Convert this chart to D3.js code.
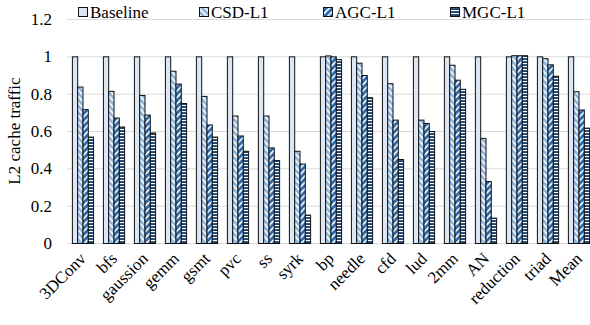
<!DOCTYPE html>
<html>
<head>
<meta charset="utf-8">
<script src="https://cdn.jsdelivr.net/npm/d3@7"></script>
<style>
	body { margin: 0; background: #fff; }
	svg { font-family: "Liberation Serif", "Times New Roman", Times, serif; }
</style>
</head>
<body>
<div id="chart"></div>
<script>
// categories and values
const categories = ["3DConv", "bfs", "gaussion", "gemm", "gsmt", "pvc", "ss", "syrk", "bp", "needle",
	"cfd", "lud", "2mm", "AN", "reduction", "triad", "Mean"];
const seriesNames = ["Baseline", "CSD-L1", "AGC-L1", "MGC-L1"];

const baseline = [1, 1, 1, 1, 1, 1, 1, 1, 1, 1, 1, 1, 1, 1, 1, 1, 1];
const csdL1 = [0.838, 0.815, 0.793, 0.923, 0.788, 0.683, 0.683, 0.494, 1.005, 0.966, 0.856, 0.661, 0.955, 0.563, 1.006, 0.99, 0.813];
const agcL1 = [0.717, 0.672, 0.688, 0.854, 0.635, 0.576, 0.512, 0.426, 1.0, 0.9, 0.661, 0.643, 0.875, 0.332, 1.006, 0.957, 0.715];
const mgcL1 = [0.57, 0.624, 0.592, 0.75, 0.57, 0.494, 0.444, 0.152, 0.985, 0.781, 0.45, 0.6, 0.826, 0.136, 1.006, 0.896, 0.618];

const yTicks = [0, 0.2, 0.4, 0.6, 0.8, 1, 1.2];

const allSeries = [baseline, csdL1, agcL1, mgcL1];

const width = 590, height = 325;
const margin = { top: 19, right: -4, bottom: 82, left: 67 };

const svg = d3.select("#chart")
	.append("svg")
	.attr("width", width)
	.attr("height", height);

// fill patterns
const defs = svg.append("defs");

function stripePattern(id, bg, size, angle, lineW) {
	const p = defs.append("pattern")
		.attr("id", id)
		.attr("patternUnits", "userSpaceOnUse")
		.attr("width", size)
		.attr("height", size)
		.attr("patternTransform", `rotate(${angle})`);
	p.append("rect").attr("width", size).attr("height", size).attr("fill", bg);
	p.append("rect").attr("x", 0).attr("y", 0).attr("width", size).attr("height", lineW).attr("fill", "#fff");
}
stripePattern("pat-csd", "#8fb8e0", 4.5, 45, 1.6);
stripePattern("pat-agc", "#2b6cb0", 4.5, -45, 1.6);
stripePattern("pat-mgc", "#1e446c", 3, 0, 1.1);

const fills = ["#dce7f3", "url(#pat-csd)", "url(#pat-agc)", "url(#pat-mgc)"];

const x = d3.scaleBand()
	.domain(categories)
	.range([margin.left, width - margin.right])
	.paddingInner(0.316)
	.paddingOuter(0.158);

const xSub = d3.scaleBand()
	.domain(d3.range(seriesNames.length))
	.range([0, x.bandwidth()]);

const y = d3.scaleLinear()
	.domain([0, 1.2])
	.range([height - margin.bottom, margin.top]);

// gridlines
svg.append("g")
	.attr("class", "grid")
	.selectAll("line")
	.data(yTicks)
	.join("line")
	.attr("x1", margin.left)
	.attr("x2", width)
	.attr("y1", d => y(d) + 0.5)
	.attr("y2", d => y(d) + 0.5)
	.attr("stroke", "#d9d9d9")
	.attr("stroke-width", 1);

// y axis labels
const yAxis = svg.append("g")
	.attr("transform", `translate(${margin.left}, 0)`)
	.call(d3.axisLeft(y).tickValues(yTicks).tickFormat(d3.format("")).tickSize(0).tickPadding(15));
yAxis.attr("font-family", null).attr("font-size", 17);
yAxis.select(".domain").remove();

// bars
const groups = svg.append("g")
	.selectAll("g")
	.data(categories)
	.join("g")
	.attr("transform", d => `translate(${x(d)}, 0)`);

groups.selectAll("rect")
	.data((d, i) => allSeries.map((s, k) => ({ k, v: s[i] })))
	.join("rect")
	.attr("x", d => xSub(d.k) + 0.5)
	.attr("y", d => y(d.v) + 0.5)
	.attr("width", xSub.bandwidth())
	.attr("height", d => y(0) - y(d.v))
	.attr("fill", d => fills[d.k])
	.attr("stroke", "#111")
	.attr("stroke-width", 1);

// x axis labels, rotated -45
const xLabels = svg.append("g")
	.attr("class", "x-labels")
	.selectAll("g")
	.data(categories)
	.join("g")
	.attr("transform", d => `translate(${x(d) + x.bandwidth() / 2 + 1}, ${y(0) + 13})`);

xLabels.append("text")
	.attr("transform", "rotate(-45)")
	.attr("text-anchor", "end")
	.attr("font-size", 17)
	.attr("dy", "0.3em")
	.text(d => d);

// y axis title
svg.append("text")
	.attr("transform", `translate(20, ${y(0.6)}) rotate(-90)`)
	.attr("text-anchor", "middle")
	.attr("font-size", 17)
	.text("L2 cache traffic");

// legend
const legendX = [78, 199, 323, 450];
const legend = svg.append("g")
	.selectAll("g")
	.data(seriesNames)
	.join("g")
	.attr("transform", (d, i) => `translate(${legendX[i]}, 7)`);

legend.append("rect")
	.attr("x", 0.5)
	.attr("y", 0.5)
	.attr("width", 9)
	.attr("height", 9)
	.attr("fill", (d, i) => fills[i])
	.attr("stroke", "#111");

legend.append("text")
	.attr("x", 12)
	.attr("y", 11)
	.attr("font-size", 17)
	.text(d => d);
</script>
</body>
</html>
